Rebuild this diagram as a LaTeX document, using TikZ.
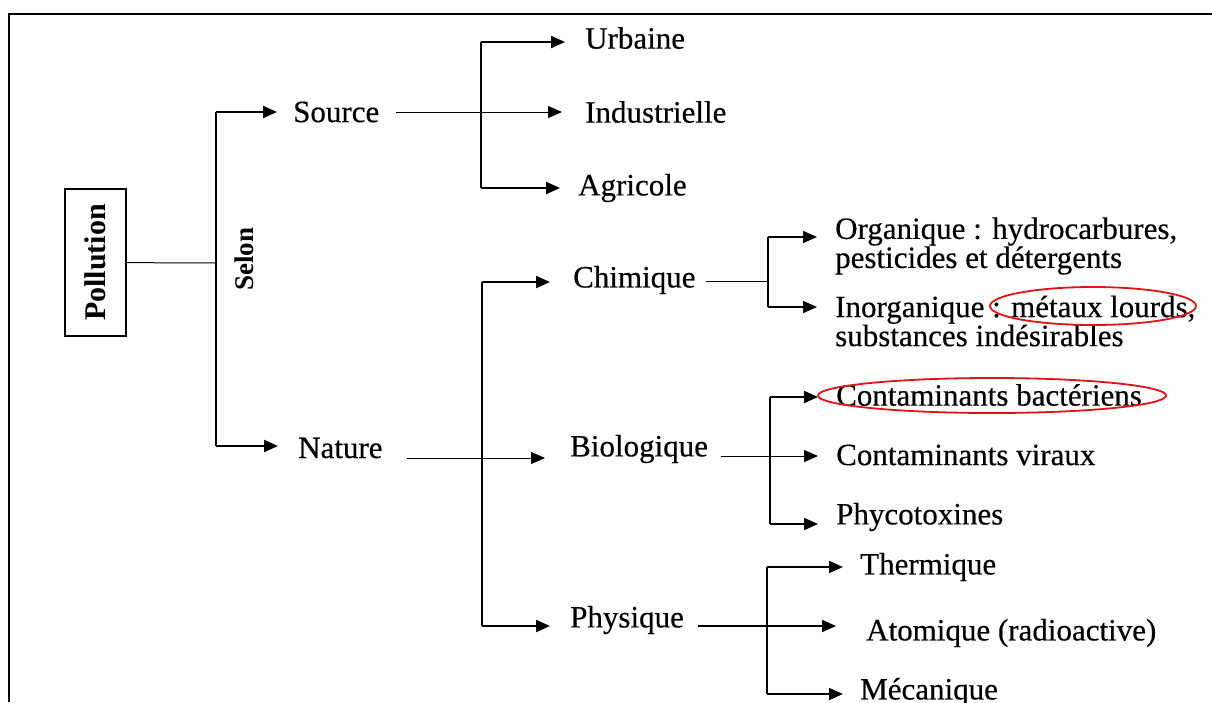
\documentclass[tikz,border=0pt]{standalone}
\usepackage{fontspec}
\setmainfont{Liberation Serif}[FakeBold=0.4]
\newfontfamily\boldserif{Liberation Serif Bold}
\usetikzlibrary{arrows.meta}
\definecolor{ringred}{RGB}{225,20,20}
\begin{document}
\begin{tikzpicture}[x=1pt,y=-1pt,
  lbl/.style={anchor=west,inner sep=0pt,font=\fontsize{31}{29}\selectfont,align=left},
  thk/.style={line width=2.2pt},
  mid/.style={line width=1.6pt},
  thn/.style={line width=1pt},
  tip/.style={-{Triangle[length=14pt,width=12pt]}},
  ring/.style={draw=ringred,line width=1.8pt}]
\useasboundingbox (0,0) rectangle (1212,702);
\fill[white] (0,0) rectangle (1212,702);
% frame
\draw[line width=2pt] (9,702) -- (9,14) -- (1212,14);

% root
\node[draw,line width=1.5pt,rotate=90,minimum width=147pt,minimum height=61pt,inner sep=0pt,
      font=\boldserif\fontsize{30}{30}\selectfont] (pol) at (95.5,262.5) {Pollution};
\node[rotate=90,inner sep=0pt,font=\boldserif\fontsize{27}{27}\selectfont] (selon) at (244,259) {Selon};

% level 1 labels
\node[lbl] (source) at (293,112) {Source};
\node[lbl] (nature) at (298,448) {Nature};
% level 2 labels
\node[lbl] (urb) at (585,38) {Urbaine};
\node[lbl] (ind) at (585,112) {Industrielle};
\node[lbl] (agr) at (578,188) {Agricole};
\node[lbl] (chim) at (573,280) {Chimique};
\node[lbl] (bio) at (570,449) {Biologique};
\node[lbl] (phy) at (570,620) {Physique};
% level 3 labels
\node[lbl] (org) at (835,246) {Organique : hydrocarbures,\\pesticides et détergents};
\node[lbl] (inorg) at (835,321) {Inorganique : métaux lourds,\\substances indésirables};
\node[lbl] (bac) at (836,395) {Contaminants bactériens};
\node[lbl] (vir) at (836,455) {Contaminants viraux};
\node[lbl] (phyc) at (836,517) {Phycotoxines};
\node[lbl] (therm) at (860,567) {Thermique};
\node[lbl] (atom) at (866,633) {Atomique (radioactive)};
\node[lbl] (mec) at (860,692) {Mécanique};

% trunk
\coordinate (tm) at (216,263);
\coordinate (ts) at (216,112);
\coordinate (tn) at (216,446);
\draw[thn] (tm) -- (pol);
\draw[thk] (ts) -- (tn);
\draw[thk,tip,shorten >=16pt] (ts) -- (source.west);
\draw[thk,tip,shorten >=20pt] (tn) -- (tn -| nature.west);

% source branch
\coordinate (su) at (481,42);
\coordinate (sa) at (481,188);
\draw[thn,tip,shorten <=17pt,shorten >=23pt] (source.east) -- (source.east -| ind.west);
\draw[thk] (su) -- (sa);
\draw[thk,tip,shorten >=20pt] (su) -- (su -| urb.west);
\draw[thk,tip,shorten >=18pt] (sa) -- (sa -| agr.west);

% nature branch
\coordinate (nl) at (482,458);
\coordinate (nc) at (482,282);
\coordinate (np) at (482,626);
\draw[thn,tip,shorten <=24pt,shorten >=25pt] (nature.east |- nl) -- (nl -| bio.west);
\draw[mid] (nc) -- (np);
\draw[thk,tip,shorten >=23pt] (nc) -- (nc -| chim.west);
\draw[thk,tip,shorten >=20pt] (np) -- (np -| phy.west);

% chimique branch
\coordinate (cc) at (768,281);
\coordinate (cho) at (768,237);
\coordinate (chi) at (768,307);
\draw[thn,shorten <=10pt] (chim.east |- cc) -- (cc);
\draw[mid] (cho) -- (chi);
\draw[mid,tip,shorten >=18pt] (cho) -- (cho -| org.west);
\draw[mid,tip,shorten >=18pt] (chi) -- (chi -| inorg.west);

% biologique branch
\coordinate (bc) at (770,456);
\coordinate (bb) at (770,397);
\coordinate (bp) at (770,524);
\draw[thn,tip,shorten <=13pt,shorten >=18pt] (bio.east |- bc) -- (bc -| vir.west);
\draw[mid] (bb) -- (bp);
\draw[mid,tip,shorten >=18pt] (bb) -- (bb -| bac.west);
\draw[mid,tip,shorten >=18pt] (bp) -- (bp -| phyc.west);

% physique branch
\coordinate (pc) at (767,626);
\coordinate (pt) at (767,567);
\coordinate (pm) at (767,694);
\draw[mid,tip,shorten <=14pt,shorten >=30pt] (phy.east |- pc) -- (pc -| atom.west);
\draw[mid] (pt) -- (pm);
\draw[mid,tip,shorten >=17pt] (pt) -- (pt -| therm.west);
\draw[mid,tip,shorten >=17pt] (pm) -- (pm -| mec.west);

% red highlight rings
\draw[ring] (1093,306) ellipse [x radius=103pt, y radius=19pt];
\draw[ring] (992,395.5) ellipse [x radius=174pt, y radius=17.5pt];
\end{tikzpicture}
\end{document}
